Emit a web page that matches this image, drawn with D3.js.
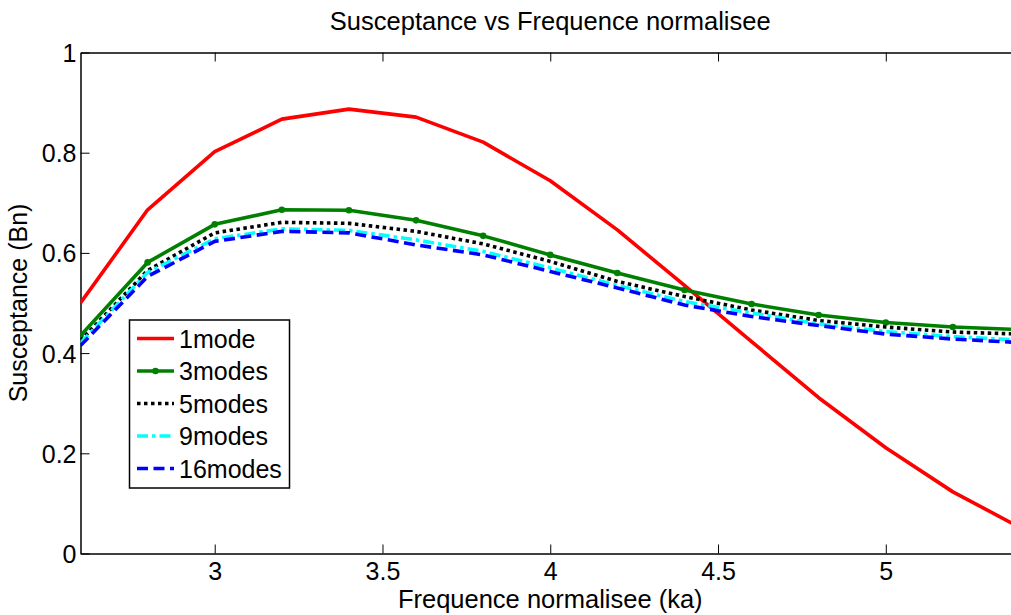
<!DOCTYPE html>
<html><head><meta charset="utf-8">
<script src="https://cdn.jsdelivr.net/npm/d3@7"></script>
<style>
html,body{margin:0;padding:0;background:#fff;overflow:hidden;}
svg{display:block;font-family:"Liberation Sans",Arial,Helvetica,sans-serif;}
</style></head>
<body>
<svg id="chart" width="1011" height="615"></svg>
<script>
const freq = [2.6, 2.8, 3.0, 3.2, 3.4, 3.6, 3.8, 4.0, 4.2, 4.4, 4.6, 4.8, 5.0, 5.2, 5.4];
const mode1  = [0.500, 0.686, 0.802, 0.867, 0.887, 0.871, 0.821, 0.744, 0.646, 0.535, 0.423, 0.311, 0.211, 0.123, 0.052];
const modes3 = [0.435, 0.581, 0.657, 0.686, 0.685, 0.665, 0.634, 0.596, 0.560, 0.526, 0.498, 0.476, 0.461, 0.452, 0.447];
const modes5 = [0.425, 0.565, 0.640, 0.661, 0.659, 0.643, 0.618, 0.583, 0.543, 0.513, 0.486, 0.465, 0.452, 0.442, 0.438];
const modes9 = [0.420, 0.561, 0.628, 0.648, 0.645, 0.626, 0.603, 0.570, 0.535, 0.503, 0.480, 0.458, 0.443, 0.433, 0.426];
const modes16= [0.415, 0.553, 0.623, 0.643, 0.640, 0.616, 0.596, 0.563, 0.530, 0.496, 0.473, 0.455, 0.438, 0.428, 0.421];
const seriesNames = ["1mode", "3modes", "5modes", "9modes", "16modes"];
const xTicks = [3, 3.5, 4, 4.5, 5];
const yTicks = [0, 0.2, 0.4, 0.6, 0.8, 1];
const titleText = "Susceptance vs Frequence normalisee";
const xLabel = "Frequence normalisee (ka)";
const yLabel = "Susceptance (Bn)";

const styles = [
  {color:"#ff0000", width:3.6, dash:null, marker:false},
  {color:"#008000", width:3.6, dash:null, marker:true},
  {color:"#000000", width:3.6, dash:"3.5,3.5", marker:false},
  {color:"#00ffff", width:3.6, dash:"11,4,3.5,4", marker:false},
  {color:"#0000ff", width:3.6, dash:"11,5.5", marker:false}
];
const allSeries = [mode1, modes3, modes5, modes9, modes16];

const svg = d3.select("#chart");
const L = 80.5, T = 52.5, R = 1020, B = 553.5;
const x = d3.scaleLinear().domain([2.6, 5.4]).range([L, R]);
const y = d3.scaleLinear().domain([0, 1]).range([B, T]);

svg.append("defs").append("clipPath").attr("id","clip")
  .append("rect").attr("x",L).attr("y",T).attr("width",R-L).attr("height",B-T);

const fs = 25;
const gx = svg.append("g").attr("transform",`translate(0,${B})`)
  .call(d3.axisBottom(x).tickValues(xTicks).tickFormat(d3.format("")).tickSizeInner(-9).tickSizeOuter(0).tickPadding(9));
const gxt = svg.append("g").attr("transform",`translate(0,${T})`)
  .call(d3.axisTop(x).tickValues(xTicks).tickFormat("").tickSizeInner(-9).tickSizeOuter(0));
const gy = svg.append("g").attr("transform",`translate(${L},0)`)
  .call(d3.axisLeft(y).tickValues(yTicks).tickFormat(d3.format("")).tickSizeInner(-9).tickSizeOuter(0).tickPadding(4));
[gx,gxt,gy].forEach(g=>{
  g.selectAll(".domain").attr("stroke","#000").attr("stroke-width",1.5);
  g.selectAll(".tick line").attr("stroke","#000").attr("stroke-width",1);
  g.selectAll(".tick text").attr("fill","#000").attr("font-size",fs).attr("font-family","Liberation Sans, Arial, sans-serif");
});
gy.selectAll(".tick text").attr("dy","0.36em");

const line = d3.line().x((d,i)=>x(freq[i])).y(d=>y(d));
const plot = svg.append("g").attr("clip-path","url(#clip)");
allSeries.forEach((s,k)=>{
  const st = styles[k];
  plot.append("path").datum(s).attr("d",line).attr("fill","none")
    .attr("stroke",st.color).attr("stroke-width",st.width)
    .attr("stroke-dasharray",st.dash).attr("stroke-linejoin","round");
  if(st.marker){
    plot.selectAll(null).data(s).enter().append("circle")
      .attr("cx",(d,i)=>x(freq[i])).attr("cy",d=>y(d)).attr("r",3.3).attr("fill",st.color);
  }
});

svg.append("text").attr("x",(L+R)/2).attr("y",30).attr("text-anchor","middle")
  .attr("font-size",fs+0.5).attr("fill","#000").text(titleText);
svg.append("text").attr("x",(L+R)/2).attr("y",608).attr("text-anchor","middle")
  .attr("font-size",fs+0.5).attr("fill","#000").text(xLabel);
svg.append("text").attr("transform",`translate(27,${(T+B)/2}) rotate(-90)`).attr("text-anchor","middle")
  .attr("font-size",fs).attr("fill","#000").text(yLabel);

const lg = svg.append("g");
lg.append("rect").attr("x",129.5).attr("y",320).attr("width",160).attr("height",168)
  .attr("fill","#fff").attr("stroke","#000").attr("stroke-width",1.5);
seriesNames.forEach((name,k)=>{
  const st = styles[k];
  const yy = 338.5 + k*32.5;
  lg.append("line").attr("x1",137).attr("x2",174).attr("y1",yy).attr("y2",yy)
    .attr("stroke",st.color).attr("stroke-width",st.width).attr("stroke-dasharray",st.dash);
  if(st.marker) lg.append("circle").attr("cx",155.5).attr("cy",yy).attr("r",3.3).attr("fill",st.color);
  lg.append("text").attr("x",179).attr("y",yy).attr("dy","0.36em").attr("font-size",fs)
    .attr("fill","#000").text(name);
});
</script>
</body></html>
